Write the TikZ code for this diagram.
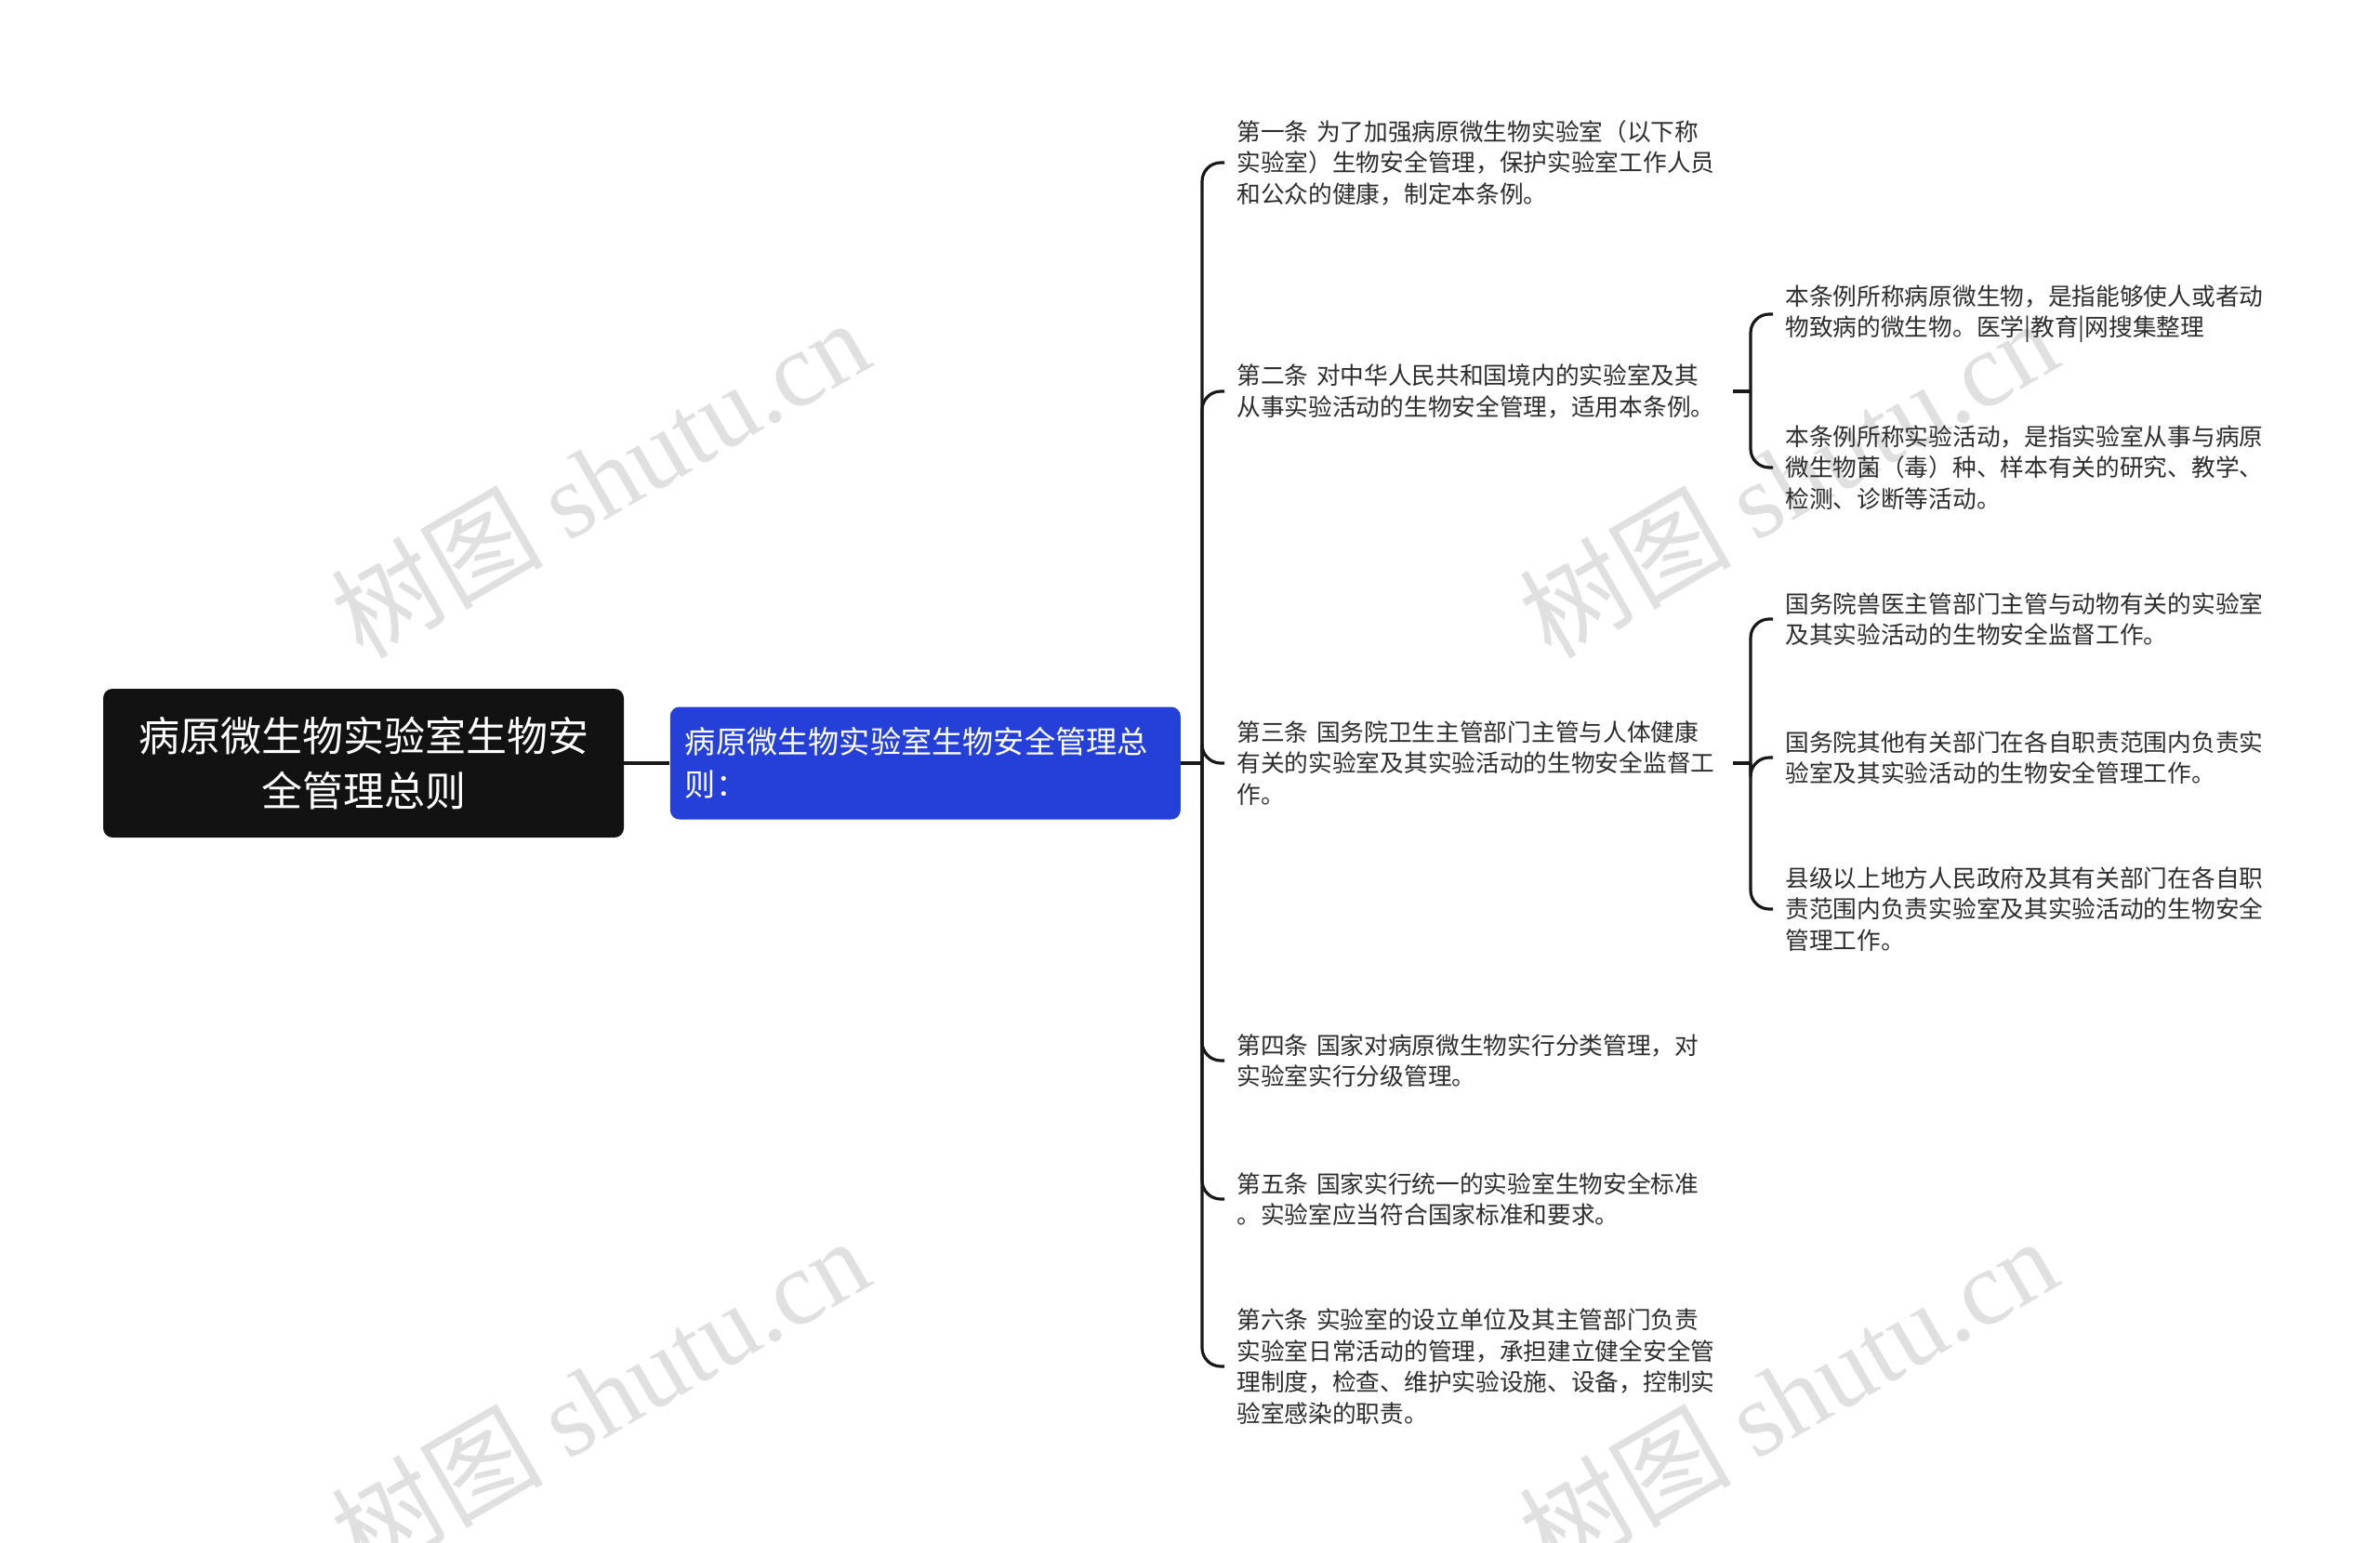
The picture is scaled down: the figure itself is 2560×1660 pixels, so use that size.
\documentclass[tikz,border=0pt]{standalone}
\usepackage{fontspec}
\setmainfont{Noto Sans CJK SC}
\newfontfamily\wmfont{Liberation Serif}
\usepackage{tikz}
\usetikzlibrary{positioning}

\definecolor{rootfill}{RGB}{18,18,18}
\definecolor{topicblue}{RGB}{37,64,217}
\definecolor{linegray}{RGB}{24,24,24}
\definecolor{textgray}{RGB}{45,45,45}
\definecolor{wmgray}{RGB}{224,224,224}

\begin{document}
\begin{tikzpicture}[x=0.5pt,y=-0.5pt,
        root/.style={fill=rootfill,text=white,rounded corners=5pt,minimum width=280pt,minimum height=80pt,align=center,font=\fontsize{22}{29.4}\selectfont},
        topic/.style={fill=topicblue,text=white,rounded corners=5pt,minimum height=60.5pt,text width=258.5pt,inner xsep=8pt,align=left,font=\fontsize{16.6}{22.9}\selectfont},
        item/.style={anchor=west,text=textgray,text width=260pt,inner xsep=6.5pt,inner ysep=0pt,align=left,font=\fontsize{12.85}{16.75}\selectfont},
        link/.style={draw=linegray,line width=1.6pt,rounded corners=10pt},
        wmark/.style={text=wmgray,rotate=30,font=\fontsize{57}{57}\selectfont}]
        \path[use as bounding box,fill=white] (0,0) rectangle (2560,1660);

        % watermarks
        \node[wmark] (wm1) at (645,514) {树图 {\wmfont shutu.cn}};
        \node[wmark] (wm2) at (1923,514) {树图 {\wmfont shutu.cn}};
        \node[wmark] (wm3) at (645,1502) {树图 {\wmfont shutu.cn}};
        \node[wmark] (wm4) at (1923,1502) {树图 {\wmfont shutu.cn}};

        \node[root] (root) at (391,821) {病原微生物实验室生物安\\全管理总则};
        \node[topic, right=24.5pt of root] (topic) {病原微生物实验室生物安全管理总\\则：};
        \coordinate (j) at (1293,821);

        \node[item] (a1) at (1317,175) {第一条 为了加强病原微生物实验室（以下称\\实验室）生物安全管理，保护实验室工作人员\\和公众的健康，制定本条例。};
        \node[item] (a2) at (1317,421) {第二条 对中华人民共和国境内的实验室及其\\从事实验活动的生物安全管理，适用本条例。};
        \node[item] (a3) at (1317,821) {第三条 国务院卫生主管部门主管与人体健康\\有关的实验室及其实验活动的生物安全监督工\\作。};
        \node[item] (a4) at (1317,1141) {第四条 国家对病原微生物实行分类管理，对\\实验室实行分级管理。};
        \node[item] (a5) at (1317,1290) {第五条 国家实行统一的实验室生物安全标准\\。实验室应当符合国家标准和要求。};
        \node[item] (a6) at (1317,1470) {第六条 实验室的设立单位及其主管部门负责\\实验室日常活动的管理，承担建立健全安全管\\理制度，检查、维护实验设施、设备，控制实\\验室感染的职责。};

        \coordinate (j2) at (1883,421);
        \node[item] (b21) at (1907,338) {本条例所称病原微生物，是指能够使人或者动\\物致病的微生物。医学|教育|网搜集整理};
        \node[item] (b22) at (1907,503) {本条例所称实验活动，是指实验室从事与病原\\微生物菌（毒）种、样本有关的研究、教学、\\检测、诊断等活动。};

        \coordinate (j3) at (1883,821);
        \node[item] (b31) at (1907,666) {国务院兽医主管部门主管与动物有关的实验室\\及其实验活动的生物安全监督工作。};
        \node[item] (b32) at (1907,815) {国务院其他有关部门在各自职责范围内负责实\\验室及其实验活动的生物安全管理工作。};
        \node[item] (b33) at (1907,978) {县级以上地方人民政府及其有关部门在各自职\\责范围内负责实验室及其实验活动的生物安全\\管理工作。};

        \draw[link] (root.east) -- (topic.west);
        \draw[link] (topic.east) -- (j);
        \foreach \n in {a1,a2,a3,a4,a5,a6}
            \draw[link] (j) |- (\n.west);

        \draw[link] (a2.east) -- (j2);
        \draw[link] (j2) |- (b21.west);
        \draw[link] (j2) |- (b22.west);

        \draw[link] (a3.east) -- (j3);
        \foreach \n in {b31,b32,b33}
            \draw[link] (j3) |- (\n.west);
      \end{tikzpicture}
\end{document}
